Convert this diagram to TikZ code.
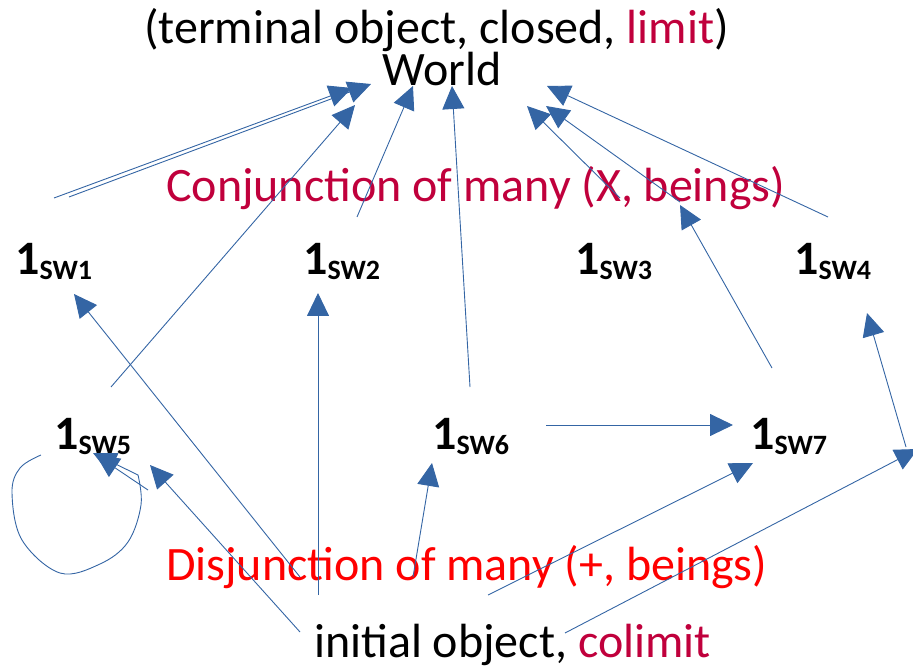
\documentclass[tikz,border=0pt]{standalone}
\usepackage{fontspec}
\setmainfont{Carlito}
\usetikzlibrary{arrows.meta}
\definecolor{arrblue}{RGB}{52,101,164}
\definecolor{crim}{RGB}{192,0,60}
\newcommand{\swlabel}[1]{{\fontsize{48}{50}\selectfont\bfseries 1}\raisebox{-5pt}{\fontsize{28}{30}\selectfont\bfseries SW#1}}
\begin{document}
\begin{tikzpicture}[x=1pt,y=-1pt,
  conn/.style={arrblue, line width=0.9pt, -{Triangle[length=23pt,width=22pt]}},
  big/.style={font=\fontsize{48}{52}\selectfont, inner sep=0pt, anchor=base west},
  obj/.style={inner sep=0pt, anchor=base west}]
\useasboundingbox (0,0) rectangle (913,668);
% texts
\node[big, anchor=base] (title) at (436.5,44) {(terminal object, closed, \textcolor{crim}{limit})};
\node[big, anchor=base] (world) at (442,86) {World};
\node[big, text=crim] (conj) at (166,202) {Conjunction of many (X, beings)};
\node[big, text=red] (disj) at (166,580) {Disjunction of many (+, beings)};
\node[big] (init) at (314,657) {initial object, \textcolor{crim}{colimit}};
\node[obj] (sw1) at (15,275) {\swlabel{1}};
\node[obj] (sw2) at (303,275) {\swlabel{2}};
\node[obj] (sw3) at (575,275) {\swlabel{3}};
\node[obj] (sw4) at (794,275) {\swlabel{4}};
\node[obj] (sw5) at (54,449) {\swlabel{5}};
\node[obj] (sw6) at (432,449) {\swlabel{6}};
\node[obj] (sw7) at (750,449) {\swlabel{7}};
% endpoints
\coordinate (a1s) at (54,198);   \coordinate (a1e) at (352,88);
\coordinate (a2s) at (69,197);   \coordinate (a2e) at (371,84);
\coordinate (a3s) at (111,387);  \coordinate (a3e) at (355,105);
\coordinate (a4s) at (357,217);  \coordinate (a4e) at (413,86);
\coordinate (a5s) at (470,387);  \coordinate (a5e) at (452,86);
\coordinate (a6s) at (620,198);  \coordinate (a6e) at (527,106);
\coordinate (a7s) at (680,202);  \coordinate (a7e) at (546,106);
\coordinate (a8s) at (828,217);  \coordinate (a8e) at (547,86);
\coordinate (a9s) at (772,368);  \coordinate (a9e) at (680,205);
\coordinate (b1s) at (300,577);  \coordinate (b1e) at (74,294);
\coordinate (b2s) at (318,595);  \coordinate (b2e) at (318,293);
\coordinate (b3s) at (413,577);  \coordinate (b3e) at (432,463);
\coordinate (b4s) at (546,425);  \coordinate (b4e) at (733,425);
\coordinate (b5s) at (488,595);  \coordinate (b5e) at (753,463);
\coordinate (b6s) at (565,633);  \coordinate (b6e) at (918,449);
\coordinate (b7s) at (906,447);  \coordinate (b7e) at (867,313);
\coordinate (b8s) at (300,632);  \coordinate (b8e) at (150,465);
\coordinate (b9s) at (148,490);  \coordinate (b9e) at (96,455);
\coordinate (lps) at (41,455);   \coordinate (lpe) at (93,453);
% connectors
\draw[conn] (a1s) -- (a1e);
\draw[conn] (a2s) -- (a2e);
\draw[conn] (a3s) -- (a3e);
\draw[conn] (a4s) -- (a4e);
\draw[conn] (a5s) -- (a5e);
\draw[conn] (a6s) -- (a6e);
\draw[conn] (a7s) -- (a7e);
\draw[conn] (a8s) -- (a8e);
\draw[conn] (a9s) -- (a9e);
\draw[conn] (b1s) -- (b1e);
\draw[conn] (b2s) -- (b2e);
\draw[conn] (b3s) -- (b3e);
\draw[conn] (b4s) -- (b4e);
\draw[conn] (b5s) -- (b5e);
\draw[conn] (b6s) -- (b6e);
\draw[conn] (b7s) -- (b7e);
\draw[conn] (b8s) -- (b8e);
\draw[conn] (b9s) -- (b9e);
\draw[conn] plot[smooth, tension=0.6] coordinates {(lps) (20,468) (12,493) (22,540) (60,573) (100,564) (128,542) (141,505) (138,475)} -- (lpe);
\end{tikzpicture}
\end{document}
